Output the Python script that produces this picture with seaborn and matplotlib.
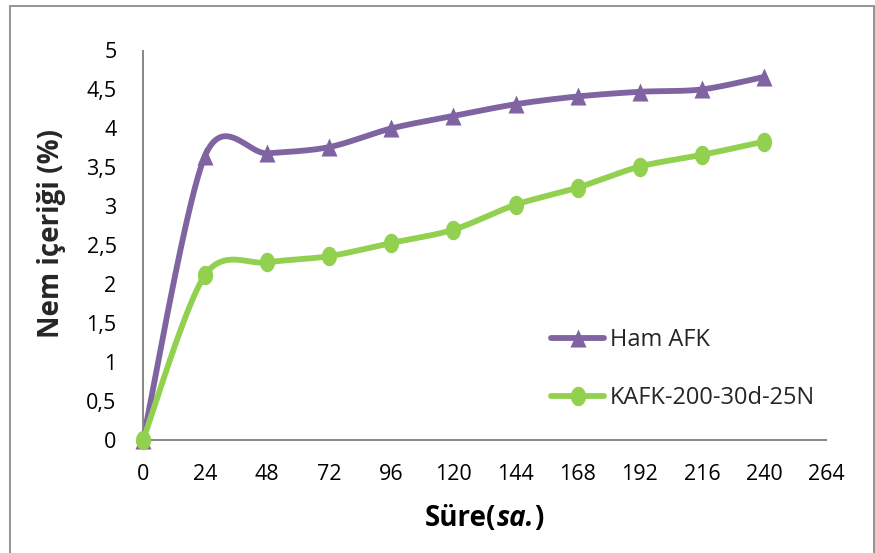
import numpy as np
import matplotlib
matplotlib.use("Agg")
import matplotlib.pyplot as plt
from matplotlib.path import Path
from matplotlib.lines import Line2D
from matplotlib.patches import Rectangle
from matplotlib.ticker import FuncFormatter
from matplotlib.offsetbox import TextArea, HPacker, AnchoredOffsetbox
import seaborn as sns

# --- data -------------------------------------------------------------
hours = [0, 24, 48, 72, 96, 120, 144, 168, 192, 216, 240]
ham_afk = [0, 3.65, 3.68, 3.76, 4.00, 4.16, 4.31, 4.41, 4.47, 4.50, 4.66]
kafk = [0, 2.12, 2.28, 2.36, 2.53, 2.70, 3.02, 3.24, 3.51, 3.66, 3.83]
series_names = ["Ham AFK", "KAFK-200-30d-25N"]
x_ticks = [0, 24, 48, 72, 96, 120, 144, 168, 192, 216, 240, 264]
y_ticks = [0, 0.5, 1, 1.5, 2, 2.5, 3, 3.5, 4, 4.5, 5]

PURPLE = "#8064A2"
GREEN = "#92D050"
AXIS_GRAY = "#868686"

sns.set_theme(style="white")
plt.rcParams["font.family"] = ["Open Sans", "DejaVu Sans"]


def smooth_curve(xs, ys, n=40, k=0.15):
    """Cubic Bezier smoothing through every point (spreadsheet-style)."""
    p = np.column_stack([xs, ys]).astype(float)
    m = len(p)
    out = []
    for i in range(m - 1):
        p0 = p[max(i - 1, 0)]
        p1 = p[i]
        p2 = p[i + 1]
        p3 = p[min(i + 2, m - 1)]
        c1 = p1 + (p2 - p0) * k
        c2 = p2 - (p3 - p1) * k
        t = np.linspace(0, 1, n)[:, None]
        seg = ((1 - t) ** 3) * p1 + 3 * ((1 - t) ** 2) * t * c1 \
            + 3 * (1 - t) * t ** 2 * c2 + t ** 3 * p2
        out.append(seg if i == 0 else seg[1:])
    out = np.vstack(out)
    return out[:, 0], out[:, 1]


# slightly tall markers
theta = np.linspace(0, 2 * np.pi, 60)
ellipse = Path(np.column_stack([0.78 * np.cos(theta), np.sin(theta)]), closed=True)
tri = Path([(-0.55, -0.62), (0.55, -0.62), (0.0, 0.62), (-0.55, -0.62)], closed=True)

fig = plt.figure(figsize=(8.75, 5.53), dpi=100)
ax = fig.add_axes([143 / 875, 1 - 440 / 553, (826 - 143) / 875, (440 - 50.5) / 553])

for ys, color, marker, ms in [(ham_afk, PURPLE, tri, 13), (kafk, GREEN, ellipse, 14)]:
    cx, cy = smooth_curve(hours, ys)
    sns.lineplot(x=cx, y=cy, sort=False, estimator=None, color=color,
                 linewidth=4.2, ax=ax, legend=False, clip_on=False)
    ax.plot(hours, ys, linestyle="none", marker=marker, markersize=ms,
            color=color, markeredgewidth=0, clip_on=False, zorder=4)

ax.set_xlim(0, 264)
ax.set_ylim(0, 5)
ax.set_xticks(x_ticks)
ax.set_yticks(y_ticks)
ax.yaxis.set_major_formatter(FuncFormatter(lambda v, _: f"{v:g}".replace(".", ",")))
ax.set_xlabel("")
ax.set_ylabel("")

for side in ["top", "right"]:
    ax.spines[side].set_visible(False)
for side in ["left", "bottom"]:
    ax.spines[side].set_color(AXIS_GRAY)
    ax.spines[side].set_linewidth(1.4)
ax.tick_params(axis="both", direction="in", length=6, width=1.4, color=AXIS_GRAY,
               labelsize=15.5, labelcolor="black")
ax.tick_params(axis="y", pad=19)
ax.tick_params(axis="x", pad=17)
ax.set_facecolor("white")

# legend
handles = [
    Line2D([0], [0], color=PURPLE, lw=4.2, marker=tri, markersize=13, markeredgewidth=0),
    Line2D([0], [0], color=GREEN, lw=4.2, marker=ellipse, markersize=14, markeredgewidth=0),
]
fig.legend(handles, series_names, loc="center left",
           bbox_to_anchor=(551 / 875, 1 - 369 / 553), bbox_transform=fig.transFigure,
           frameon=False, fontsize=17, handlelength=2.25, handletextpad=0.25,
           labelspacing=1.45, borderpad=0, borderaxespad=0)

# axis titles
fig.text(51 / 875, 1 - 233 / 553, "Nem içeriği (%)", rotation=90, ha="center",
         va="center", fontsize=20, fontweight="bold")

lab = dict(fontsize=20, fontweight="bold", color="black")
parts = [TextArea("Süre(", textprops=lab),
         TextArea("sa.", textprops=dict(lab, style="italic")),
         TextArea(")", textprops=lab)]
box = HPacker(children=parts, align="baseline", pad=0, sep=0)
fig.add_artist(AnchoredOffsetbox(loc="center", child=box, pad=0, frameon=False,
                                 borderpad=0, bbox_to_anchor=(484 / 875, 1 - 518 / 553),
                                 bbox_transform=fig.transFigure))

# chart border
fig.add_artist(Rectangle((9.5 / 875, -0.05), (874 - 9.5) / 875, 1.05 - 6 / 553,
                         transform=fig.transFigure, fill=False,
                         edgecolor="#8c8c8c", linewidth=1.3))

fig.savefig("out.png", dpi=100)
